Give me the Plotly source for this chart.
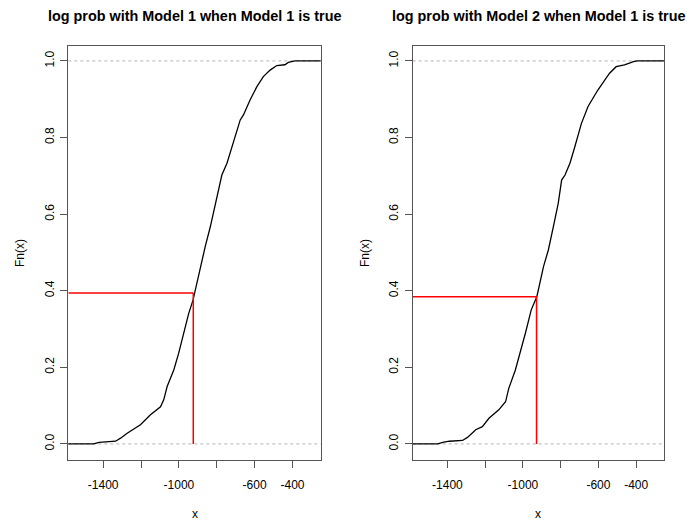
import plotly.graph_objects as go

# ---- data (ECDF curves) ----
# Panel 1: log prob with Model 1 when Model 1 is true
x1 = [-1600, -1450, -1422, -1334, -1308, -1273, -1203, -1150, -1097, -1080, -1062, -1027,
      -1001, -975, -948, -925, -887, -861, -834, -808, -782, -773, -746, -724, -712,
      -676, -659, -624, -588, -554, -518, -483, -440, -422, -387, -200]
f1 = [0.0, 0.0, 0.004, 0.007, 0.015, 0.028, 0.050, 0.076, 0.097, 0.115, 0.150, 0.193,
      0.237, 0.289, 0.341, 0.376, 0.463, 0.515, 0.567, 0.628, 0.689, 0.702, 0.733, 0.768, 0.785,
      0.846, 0.859, 0.898, 0.933, 0.959, 0.976, 0.988, 0.990, 0.996, 1.0, 1.0]

# Panel 2: log prob with Model 2 when Model 1 is true
x2 = [-1600, -1451, -1425, -1390, -1320, -1294, -1250, -1215, -1180, -1128, -1092, -1075,
      -1040, -1014, -987, -956, -935, -926, -891, -865, -839, -813, -795, -777, -751, -729,
      -725, -690, -655, -603, -576, -541, -506, -462, -410, -392, -200]
f2 = [0.0, 0.0, 0.004, 0.007, 0.009, 0.017, 0.037, 0.045, 0.067, 0.089, 0.110, 0.145,
      0.193, 0.237, 0.289, 0.350, 0.376, 0.385, 0.463, 0.507, 0.567, 0.628, 0.689, 0.702, 0.733, 0.768,
      0.776, 0.837, 0.881, 0.924, 0.942, 0.968, 0.985, 0.990, 0.999, 1.0, 1.0]

# observed value and its ECDF level (red guide lines)
obs_x = [-924, -928]
obs_f = [0.394, 0.384]

titles = ["log prob with Model 1 when Model 1 is true",
          "log prob with Model 2 when Model 1 is true"]

x_tickvals = [-1400, -1200, -1000, -800, -600, -400]
x_ticktext = ["-1400", "", "-1000", "", "-600", "-400"]
y_tickvals = [0, 0.2, 0.4, 0.6, 0.8, 1.0]
y_ticktext = ["0.0", "0.2", "0.4", "0.6", "0.8", "1.0"]
x_range = [-1584, -251]
y_range = [-0.042, 1.039]

W, H = 691, 521
FONT = "Liberation Sans, Arial, Helvetica, sans-serif"

dom_x = [[68.3 / W, 320.7 / W], [412.7 / W, 664.3 / W]]
dom_y = [1 - 460 / H, 1 - 46 / H]

fig = go.Figure()
series = [(x1, f1), (x2, f2)]
for i, (xs, fs) in enumerate(series):
    sx = "" if i == 0 else "2"
    fig.add_trace(go.Scatter(x=xs, y=fs, mode="lines",
                             line=dict(color="black", width=1.3),
                             xaxis="x" + sx, yaxis="y" + sx, showlegend=False,
                             hoverinfo="skip"))

layout = dict(width=W, height=H, margin=dict(l=0, r=0, t=0, b=0),
              paper_bgcolor="white", plot_bgcolor="white",
              font=dict(family=FONT, size=12, color="black"),
              showlegend=False)

shapes = []
annotations = []
for i in range(2):
    sx = "" if i == 0 else "2"
    axx = dict(domain=dom_x[i], range=x_range, tickmode="array",
               tickvals=x_tickvals, ticktext=x_ticktext,
               showgrid=False, zeroline=False, showline=True, mirror=True,
               linecolor="#555", linewidth=1, ticks="outside", ticklen=7,
               tickcolor="#555", anchor="y" + sx,
               tickfont=dict(size=12, family=FONT, color="black"),
               ticklabelstandoff=7)
    axy = dict(domain=dom_y, range=y_range, tickmode="array",
               tickvals=y_tickvals, ticktext=y_ticktext, tickangle=-90,
               showgrid=False, zeroline=False, showline=True, mirror=True,
               linecolor="#555", linewidth=1, ticks="outside", ticklen=7,
               tickcolor="#555", anchor="x" + sx,
               tickfont=dict(size=12, family=FONT, color="black"),
               ticklabelstandoff=2)
    layout["xaxis" + sx] = axx
    layout["yaxis" + sx] = axy

    xref = "x" + sx
    yref = "y" + sx
    # dashed reference lines at 0 and 1
    for lvl in (0, 1):
        shapes.append(dict(type="line", xref=xref + " domain", yref=yref,
                           x0=0, x1=1, y0=lvl, y1=lvl,
                           line=dict(color="#B3B3B3", width=1, dash="3px,3px"),
                           layer="below"))
    # red guide lines
    shapes.append(dict(type="line", xref=xref, yref=yref,
                       x0=x_range[0], x1=obs_x[i], y0=obs_f[i], y1=obs_f[i],
                       line=dict(color="red", width=1.5)))
    shapes.append(dict(type="line", xref=xref, yref=yref,
                       x0=obs_x[i], x1=obs_x[i], y0=obs_f[i], y1=0,
                       line=dict(color="red", width=1.5)))

    cx = (dom_x[i][0] + dom_x[i][1]) / 2
    annotations.append(dict(text=titles[i], x=cx, y=1 - 16 / H,
                            xref="paper", yref="paper", showarrow=False,
                            xanchor="center", yanchor="middle",
                            font=dict(size=14.4, family=FONT, color="black",
                                      weight="bold")))
    annotations.append(dict(text="x", x=cx, y=1 - 514 / H, xref="paper", yref="paper",
                            showarrow=False, xanchor="center", yanchor="middle",
                            font=dict(size=12, family=FONT, color="black")))
    annotations.append(dict(text="Fn(x)", x=(20 if i == 0 else 365) / W, y=1 - 253 / H,
                            xref="paper", yref="paper", showarrow=False, textangle=-90,
                            xanchor="center", yanchor="middle",
                            font=dict(size=12, family=FONT, color="black")))

layout["shapes"] = shapes
layout["annotations"] = annotations
fig.update_layout(**layout)
fig.write_html("out.html")
